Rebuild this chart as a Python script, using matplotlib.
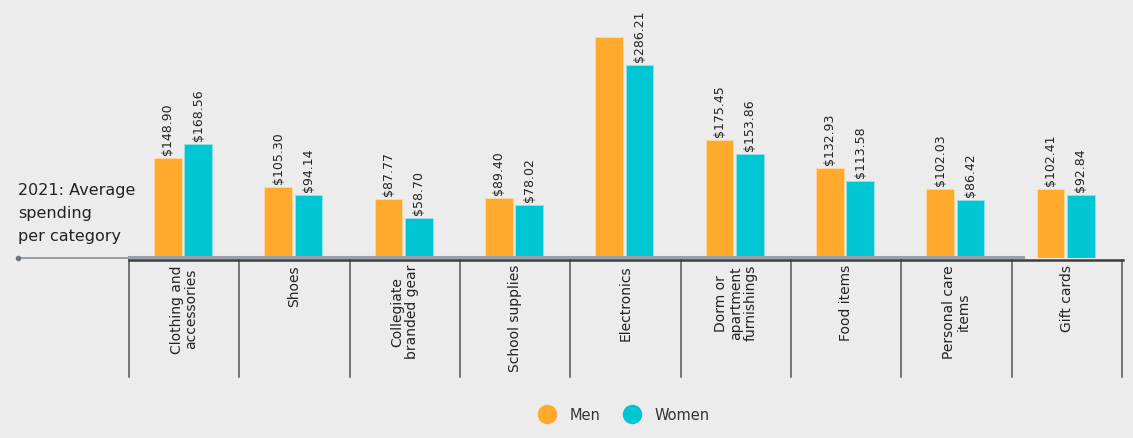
import matplotlib.pyplot as plt
from matplotlib.lines import Line2D

categories = [
    "Clothing and\naccessories",
    "Shoes",
    "Collegiate\nbranded gear",
    "School supplies",
    "Electronics",
    "Dorm or\napartment\nfurnishings",
    "Food items",
    "Personal care\nitems",
    "Gift cards",
]
men = [148.90, 105.30, 87.77, 89.40, 327.6, 175.45, 132.93, 102.03, 102.41]
women = [168.56, 94.14, 58.70, 78.02, 286.21, 153.86, 113.58, 86.42, 92.84]
# the reference leaves the men/electronics bar unlabelled
men_labels = ["$148.90", "$105.30", "$87.77", "$89.40", None,
              "$175.45", "$132.93", "$102.03", "$102.41"]
women_labels = ["$168.56", "$94.14", "$58.70", "$78.02", "$286.21",
                "$153.86", "$113.58", "$86.42", "$92.84"]

BG = "#ececec"
MEN_C = "#ffaa2c"
WOMEN_C = "#00c5d3"
W, H = 1133, 439

plt.rcParams["font.family"] = ["DejaVu Sans"]

fig = plt.figure(figsize=(W / 100, H / 100), dpi=100, facecolor=BG)
ax = fig.add_axes([129 / W, (H - 259) / H, (1122 - 129) / W, 259 / H])
ax.set_facecolor(BG)
ax.set_xlim(0, len(categories))
ax.set_ylim(0, 259 / 0.6744)
ax.axis("off")

x = [i + 0.49 for i in range(len(categories))]
bw = 0.25
bm = ax.bar([v - 0.138 for v in x], men, width=bw, color=MEN_C,
            edgecolor="#ffd9a0", linewidth=0.6, zorder=3)
bf = ax.bar([v + 0.138 for v in x], women, width=bw, color=WOMEN_C,
            edgecolor="#8fe3ea", linewidth=0.6, zorder=3)

for bars, labels in ((bm, men_labels), (bf, women_labels)):
    for b, lab in zip(bars, labels):
        if lab is None:
            continue
        ax.annotate(lab, (b.get_x() + b.get_width() / 2, b.get_height()),
                    xytext=(0, 4), textcoords="offset pixels",
                    rotation=90, ha="center", va="bottom",
                    fontsize=9, color="#222222")

# category labels and separators below the baseline
for i, cat in enumerate(categories):
    ax.annotate(cat, (i + 0.5, 0), xytext=(0, -6), textcoords="offset pixels",
                rotation=90, ha="center", va="top", multialignment="center",
                fontsize=10, color="#222222", linespacing=1.05,
                annotation_clip=False)
for i in range(len(categories) + 1):
    ax.plot([i, i], [-2 / 259, -119 / 259], color="#555555", lw=1.1,
            transform=ax.get_xaxis_transform(), clip_on=False)

# baselines
fig.add_artist(Line2D([18 / W, 129 / W], [(H - 258.5) / H] * 2,
                      color="#8a909b", lw=1.2, zorder=2))
fig.add_artist(Line2D([129 / W, 1023 / W], [(H - 258) / H] * 2,
                      color="#9aa0aa", lw=2.2, zorder=2))
fig.add_artist(Line2D([18 / W], [(H - 258.5) / H], marker="o", markersize=3,
                      color="#6d7480", lw=0))
fig.add_artist(Line2D([129 / W, 1123 / W], [(H - 260.5) / H] * 2,
                      color="#3d3d3d", lw=1.8, zorder=4))

fig.text(18 / W, (H - 183) / H, "2021: Average\nspending\nper category",
         ha="left", va="top", fontsize=11.5, color="#222222",
         linespacing=1.65)

handles = [
    Line2D([], [], marker="o", lw=0, markersize=13, color=MEN_C, label="Men"),
    Line2D([], [], marker="o", lw=0, markersize=13, color=WOMEN_C, label="Women"),
]
fig.legend(handles=handles, loc="center", bbox_to_anchor=(621 / W, (H - 416) / H),
           ncol=2, frameon=False, fontsize=10.5, handletextpad=0.5,
           columnspacing=1.2, labelcolor="#333333")

fig.savefig("out.png", dpi=100, facecolor=BG)
